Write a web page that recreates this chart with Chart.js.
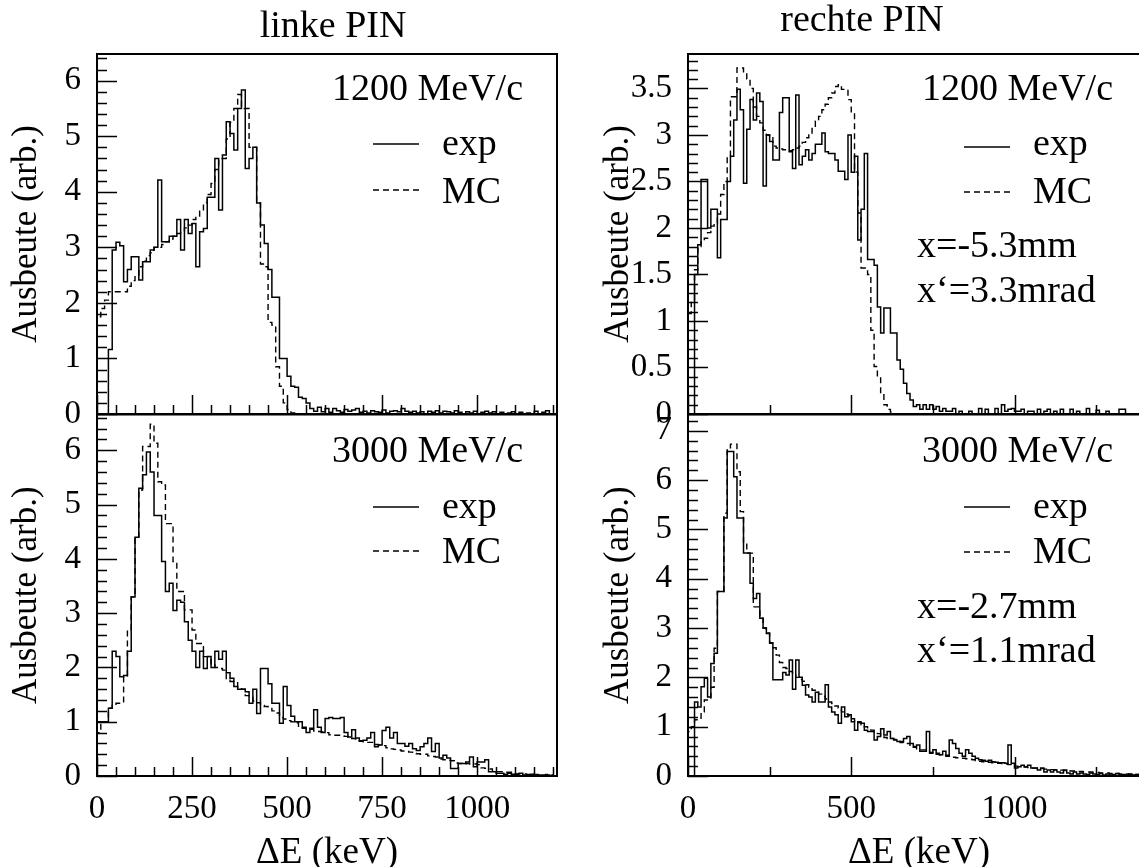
<!DOCTYPE html>
<html>
<head>
<meta charset="utf-8">
<title>PIN energy loss</title>
<script src="https://cdn.jsdelivr.net/npm/chart.js@4/dist/chart.umd.min.js"></script>
<style>
  html, body { margin: 0; padding: 0; background: #fff; overflow: hidden; width: 1139px; height: 867px; position: relative; }
  canvas { position: absolute; }
</style>
</head>
<body>
<canvas id="tl" width="570" height="440" style="left:0px;top:0px;width:570px;height:440px"></canvas>
<canvas id="bl" width="570" height="490" style="left:0px;top:390px;width:570px;height:490px"></canvas>
<canvas id="tr" width="600" height="440" style="left:580px;top:0px;width:600px;height:440px"></canvas>
<canvas id="br" width="600" height="490" style="left:580px;top:390px;width:600px;height:490px"></canvas>
<script>
// bin width in keV, first bin starts at 0
const binWidth = 10;

// tick labels
const leftXTicks = [0, 250, 500, 750, 1000];
const rightXTicks = [0, 500, 1000];
const leftYTicks = [0, 1, 2, 3, 4, 5, 6];
const trYTicks = [0, 0.5, 1, 1.5, 2, 2.5, 3, 3.5];
const brYTicks = [0, 1, 2, 3, 4, 5, 6, 7];

// linke PIN, 1200 MeV/c
const leftExp1200 = [0,0,0,0,1.16,2.95,3.09,3.03,2.38,2.6,2.83,2.83,2.41,2.74,2.74,2.95,3.0,4.21,3.1,3.1,
  3.2,3.2,3.5,2.95,3.5,3.25,3.43,2.65,3.28,3.34,3.9,3.9,4.6,3.67,4.66,5.26,5.05,4.75,5.5,5.83,
  4.42,4.6,4.8,3.8,3.4,3.07,2.6,2.1,2.1,1.0,1.0,0.68,0.5,0.48,0.3,0.28,0.2,0.1,0.05,0.12,
  0.04,0.1,0.03,0.1,0.06,0.03,0.08,0.05,0.07,0.1,0.03,0.05,0.02,0.06,0.04,0.03,0.07,0.02,0.05,0.06,
  0.04,0.1,0.05,0.03,0.05,0.02,0.04,0,0.05,0.03,0.06,0.02,0.05,0.04,0.02,0.06,0.03,0,0.04,0.02,
  0.05,0,0.03,0.05,0.02,0.04,0,0.03,0,0.02,0.04,0,0.03,0,0.02,0,0.05,0,0.03,0.06,0];
const leftMc1200 = [1.6,1.75,1.9,2.05,2.2,2.2,2.2,2.2,2.2,2.3,2.4,2.5,2.65,2.75,2.85,2.9,3.0,3.0,3.05,3.1,
  3.15,3.2,3.25,3.3,3.35,3.4,3.5,3.55,3.65,3.8,3.95,4.15,4.4,4.6,4.6,4.95,5.25,5.5,5.75,5.5,
  5.5,4.8,4.8,3.8,2.7,2.65,1.65,1.6,0.85,0.5,0.2,0.08,0.02,0,0,0,0,0,0,0,
  0,0,0,0,0,0,0,0,0,0,0,0,0,0,0,0,0,0,0,0,
  0,0,0,0,0,0,0,0,0,0,0,0,0,0,0,0,0,0,0,0,
  0,0,0,0,0,0,0,0,0,0,0,0,0,0,0,0,0,0,0,0,0];

// linke PIN, 3000 MeV/c
const leftExp3000 = [1.0,1.0,1.0,1.0,1.25,2.3,2.2,1.83,1.85,2.3,3.3,4.4,5.3,5.55,5.97,5.6,4.8,4.8,3.95,3.4,
  3.55,3.05,3.24,3.2,2.84,2.5,2.3,2.0,2.3,1.98,2.2,2.0,2.3,2.15,2.3,1.9,1.8,1.65,1.6,1.6,
  1.55,1.34,1.6,1.15,1.98,1.98,1.7,1.34,1.34,0.97,1.65,1.3,1.1,1.0,1.0,0.9,0.8,0.88,1.22,0.9,
  0.8,1.06,1.08,1.06,1.06,1.08,0.8,0.72,0.85,0.7,0.65,0.66,0.7,0.8,0.54,0.57,0.84,0.9,0.7,0.8,
  0.6,0.6,0.55,0.6,0.5,0.47,0.54,0.6,0.7,0.45,0.6,0.33,0.38,0.33,0.14,0.14,0.23,0.23,0.26,0.35,
  0.17,0.26,0.26,0.3,0.08,0.08,0.05,0.05,0.03,0.05,0.03,0.03,0.05,0.02,0.01,0.03,0.01,0.02,0.01,0.02,0.01];
const leftMc3000 = [0.8,0.8,1.0,1.0,1.25,1.3,1.34,1.34,1.83,2.7,3.3,4.4,5.27,6.07,6.07,6.48,6.13,5.42,5.36,4.65,
  4.65,3.95,3.4,3.4,3.06,3.06,2.69,2.44,2.44,2.2,2.2,2.05,2.0,1.98,1.95,1.78,1.74,1.72,1.62,1.6,
  1.48,1.45,1.38,1.35,1.3,1.28,1.26,1.2,1.16,1.08,1.05,1.02,1.0,0.98,0.9,0.88,0.87,0.86,0.83,0.82,
  0.81,0.8,0.76,0.75,0.75,0.74,0.73,0.7,0.69,0.68,0.64,0.63,0.62,0.62,0.58,0.57,0.56,0.52,0.5,0.49,
  0.48,0.46,0.45,0.44,0.42,0.41,0.4,0.4,0.37,0.36,0.35,0.31,0.3,0.29,0.28,0.24,0.23,0.22,0.23,0.22,
  0.22,0.21,0.15,0.14,0.13,0.09,0.08,0.08,0.07,0.07,0.05,0.04,0.04,0.04,0.03,0.04,0.03,0.03,0.02,0.03,0.02];

// rechte PIN, 1200 MeV/c
const rightExp1200 = [0,0,0,1.5,1.82,2.52,2.52,2.0,2.2,2.2,1.68,2.09,2.09,2.5,2.77,3.16,3.49,3.27,2.48,3.06,
  3.38,3.16,3.45,3.36,2.45,3.0,2.93,2.73,2.73,3.24,3.4,3.4,2.82,2.64,3.43,2.68,2.77,2.84,2.73,2.8,
  2.9,2.9,3.02,2.82,2.8,2.8,2.73,2.61,2.61,2.52,3.0,2.6,2.77,1.87,2.2,2.8,1.66,1.66,1.6,1.15,
  0.87,1.14,1.14,0.87,0.87,0.58,0.48,0.33,0.22,0.15,0.08,0.1,0.05,0.1,0.05,0.1,0.05,0.08,0.03,0.06,
  0.03,0.03,0.06,0,0.03,0,0,0.03,0,0,0.06,0,0.05,0,0,0.06,0,0.1,0.03,0.05,
  0.06,0.03,0.03,0.05,0,0.03,0.03,0,0.05,0,0.03,0.05,0,0.03,0,0.05,0,0,0.05,0,
  0.03,0,0,0.06,0,0,0.04,0,0,0.03,0,0,0,0.05,0.05,0,0,0,0];
const rightMc1200 = [1.05,1.08,1.2,1.55,1.8,1.85,1.89,1.95,2.02,2.05,2.15,2.36,2.5,2.77,3.41,3.41,3.72,3.72,3.67,3.6,
  3.5,3.3,3.2,3.13,3.05,3.0,2.97,2.88,2.86,2.85,2.84,2.84,2.83,2.84,2.86,2.88,2.92,2.97,3.0,3.07,
  3.15,3.2,3.27,3.33,3.4,3.45,3.52,3.54,3.49,3.49,3.38,3.24,2.6,2.16,1.57,1.57,1.5,0.9,0.51,0.4,
  0.22,0.1,0.05,0.02,0,0,0,0,0,0,0,0,0,0,0,0,0,0,0,0,
  0,0,0,0,0,0,0,0,0,0,0,0,0,0,0,0,0,0,0,0,
  0,0,0,0,0,0,0,0,0,0,0,0,0,0,0,0,0,0,0,0,
  0,0,0,0,0,0,0,0,0,0,0,0,0,0,0,0,0,0,0];

// rechte PIN, 3000 MeV/c
const rightExp3000 = [0,0,0,1.5,1.4,1.81,1.98,1.6,2.28,2.49,3.74,3.74,5.23,6.58,6.58,6.07,5.23,5.23,4.52,4.52,
  3.91,3.6,3.7,3.2,3.0,2.89,2.7,1.95,1.95,1.95,2.1,2.05,2.35,1.76,2.35,2.0,1.84,1.64,1.6,1.5,
  1.7,1.5,1.5,1.85,1.4,1.3,1.24,1.07,1.4,1.2,1.24,1.1,0.93,1.1,1.07,0.93,0.9,0.9,0.73,0.8,
  0.96,0.83,0.9,0.76,0.73,0.7,0.7,0.76,0.8,0.66,0.6,0.63,0.5,0.5,0.9,0.46,0.53,0.46,0.43,0.5,
  0.4,0.73,0.66,0.56,0.46,0.4,0.53,0.46,0.4,0.36,0.33,0.32,0.3,0.32,0.29,0.28,0.27,0.27,0.26,0.63,
  0.26,0.16,0.19,0.22,0.19,0.22,0.16,0.16,0.12,0.16,0.08,0.12,0.08,0.12,0.08,0.06,0.12,0.06,0.04,0.08,
  0.04,0.06,0.04,0.03,0.06,0.04,0.03,0.05,0.02,0.04,0.02,0.03,0.05,0.02,0.03,0.02,0.04,0.02,0.03];
const rightMc3000 = [0.9,0.9,1.0,1.14,1.14,1.3,1.54,1.54,1.8,2.59,3.74,3.74,5.33,6.61,6.73,6.73,6.17,5.36,4.72,4.52,
  4.52,3.43,3.43,3.2,3.0,2.9,2.69,2.6,2.45,2.3,2.2,2.18,2.12,2.05,2.0,1.96,1.92,1.85,1.8,1.74,
  1.7,1.66,1.62,1.56,1.5,1.47,1.42,1.38,1.3,1.26,1.22,1.16,1.12,1.08,1.04,1.0,0.96,0.93,0.9,0.86,
  0.8,0.78,0.76,0.76,0.74,0.7,0.68,0.66,0.66,0.62,0.58,0.55,0.53,0.53,0.52,0.48,0.45,0.44,0.43,0.42,
  0.42,0.4,0.38,0.37,0.36,0.36,0.35,0.34,0.33,0.31,0.3,0.29,0.29,0.28,0.27,0.26,0.26,0.25,0.24,0.23,
  0.21,0.2,0.19,0.19,0.18,0.17,0.16,0.16,0.15,0.15,0.14,0.14,0.13,0.13,0.12,0.12,0.11,0.11,0.1,0.1,
  0.09,0.09,0.08,0.08,0.08,0.07,0.07,0.06,0.06,0.06,0.05,0.05,0.05,0.04,0.04,0.04,0.03,0.03,0.03];

const serif = '"Liberation Serif", "Times New Roman", serif';
Chart.defaults.font.family = serif;
Chart.defaults.color = '#000';

// histogram bins -> stepped line points
function toSteps(values) {
  let pts = [{x: 0, y: 0}];
  values.forEach(function (v, i) {
    pts.push({x: i * binWidth, y: v});
  });
  pts.push({x: values.length * binWidth, y: 0});
  return pts;
}

function fixedTicks(list) {
  return function (scale) {
    scale.ticks = list.map(function (v) { return {value: v}; });
  };
}

// ROOT-like frame, inner tick marks, legend and labels
const rootFrame = {
  id: 'rootFrame',
  afterDatasetsDraw(chart, args, opts) {
    let ctx = chart.ctx;
    let area = chart.chartArea;
    let xs = chart.scales.x;
    let ys = chart.scales.y;
    ctx.save();
    ctx.strokeStyle = '#000';

    // tick marks
    ctx.lineWidth = 1.5;
    ctx.beginPath();
    let n = Math.floor(ys.max / opts.yMinor + 1e-6);
    for (let i = 0; i <= n; i++) {
      let v = i * opts.yMinor;
      let r = v / opts.yMajor;
      let len = Math.abs(r - Math.round(r)) < 1e-6 ? 20 : 10;
      let py = Math.round(ys.getPixelForValue(v)) + 0.5;
      ctx.moveTo(area.left, py);
      ctx.lineTo(area.left + len, py);
    }
    n = Math.floor(xs.max / opts.xMinor + 1e-6);
    for (let i = 0; i <= n; i++) {
      let v = i * opts.xMinor;
      let r = v / opts.xMajor;
      let len = Math.abs(r - Math.round(r)) < 1e-6 ? 19 : 9;
      let px = Math.round(xs.getPixelForValue(v)) + 0.5;
      ctx.moveTo(px, area.bottom);
      ctx.lineTo(px, area.bottom - len);
    }
    ctx.stroke();

    // frame
    ctx.lineWidth = 2;
    ctx.strokeRect(area.left, area.top, area.right - area.left, area.bottom - area.top);

    // texts in page coordinates
    let ox = opts.offsetX, oy = opts.offsetY;
    ctx.fillStyle = '#000';
    ctx.textBaseline = 'alphabetic';
    ctx.font = '38px ' + serif;
    ctx.textAlign = 'right';
    ctx.fillText(opts.momentum, opts.momX - ox, opts.momY - oy);
    ctx.textAlign = 'left';
    ctx.fillText('exp', opts.legX + 69 - ox, opts.expY - oy);
    ctx.fillText('MC', opts.legX + 69 - ox, opts.mcY - oy);
    (opts.notes || []).forEach(function (t) {
      ctx.fillText(t.text, t.x - ox, t.y - oy);
    });

    ctx.lineWidth = 1.5;
    ctx.beginPath();
    ctx.moveTo(opts.legX - ox, opts.expLineY - oy);
    ctx.lineTo(opts.legX + 46 - ox, opts.expLineY - oy);
    ctx.stroke();
    ctx.setLineDash([6, 4]);
    ctx.beginPath();
    ctx.moveTo(opts.legX - ox, opts.mcLineY - oy);
    ctx.lineTo(opts.legX + 46 - ox, opts.mcLineY - oy);
    ctx.stroke();
    ctx.setLineDash([]);

    if (opts.title) {
      ctx.font = '38px ' + serif;
      ctx.textAlign = 'center';
      ctx.fillText(opts.title.text, opts.title.x - ox, opts.title.y - oy);
    }
    ctx.restore();
  }
};

function buildPanel(p) {
  return {
    type: 'line',
    data: {
      datasets: [{
        label: 'exp',
        data: toSteps(p.exp),
        stepped: 'after',
        borderColor: '#000',
        borderWidth: 1.5,
        pointRadius: 0,
        fill: false
      }, {
        label: 'MC',
        data: toSteps(p.mc),
        stepped: 'after',
        borderColor: '#000',
        borderWidth: 1.4,
        borderDash: [6, 4],
        pointRadius: 0,
        fill: false
      }]
    },
    options: {
      responsive: false,
      animation: false,
      devicePixelRatio: 1,
      layout: { padding: { left: 0, right: p.padRight, top: p.padTop, bottom: 0 } },
      plugins: {
        legend: { display: false },
        tooltip: { enabled: false },
        rootFrame: p.frame
      },
      scales: {
        x: {
          type: 'linear',
          min: 0,
          max: p.xMax,
          grid: { display: false },
          border: { display: false },
          afterBuildTicks: fixedTicks(p.xTicks),
          ticks: {
            display: p.showX,
            autoSkip: false,
            maxRotation: 0,
            padding: 9,
            font: { size: 33, lineHeight: 1 },
            color: '#000',
            callback: function (v) { return String(v); }
          },
          title: {
            display: p.showX,
            text: 'ΔE (keV)',
            font: { size: 37, lineHeight: 1 },
            padding: { top: 0, bottom: 8 },
            color: '#000'
          },
          afterFit: function (s) { s.height = p.xAxisHeight; }
        },
        y: {
          min: 0,
          max: p.yMax,
          grid: { display: false },
          border: { display: false },
          afterBuildTicks: fixedTicks(p.yTicks),
          ticks: {
            autoSkip: false,
            padding: 8,
            font: { size: 33, lineHeight: 1 },
            color: '#000',
            callback: function (v) { return String(v); }
          },
          title: {
            display: true,
            text: 'Ausbeute (arb.)',
            font: { size: 35, lineHeight: 1 },
            padding: { top: p.yTitlePad, bottom: 0 },
            color: '#000'
          },
          afterFit: function (s) { s.width = p.yAxisWidth; }
        }
      }
    },
    plugins: [rootFrame]
  };
}

new Chart(document.getElementById('tl'), buildPanel({
  exp: leftExp1200, mc: leftMc1200, xTicks: leftXTicks, yTicks: leftYTicks,
  xMax: 1210, yMax: 6.48, showX: false,
  padTop: 54, padRight: 13, xAxisHeight: 26, yAxisWidth: 97, yTitlePad: 9,
  frame: {
    offsetX: 0, offsetY: 0, yMajor: 1, yMinor: 0.2, xMajor: 250, xMinor: 50,
    momentum: '1200 MeV/c', momX: 523, momY: 100,
    legX: 373, expLineY: 144, mcLineY: 190, expY: 155, mcY: 203,
    title: { text: 'linke PIN', x: 333, y: 37 }
  }
}));

new Chart(document.getElementById('bl'), buildPanel({
  exp: leftExp3000, mc: leftMc3000, xTicks: leftXTicks, yTicks: leftYTicks,
  xMax: 1210, yMax: 6.66, showX: true,
  padTop: 24, padRight: 13, xAxisHeight: 104, yAxisWidth: 97, yTitlePad: 9,
  frame: {
    offsetX: 0, offsetY: 390, yMajor: 1, yMinor: 0.2, xMajor: 250, xMinor: 50,
    momentum: '3000 MeV/c', momX: 523, momY: 462,
    legX: 373, expLineY: 507, mcLineY: 551, expY: 518, mcY: 563
  }
}));

new Chart(document.getElementById('tr'), buildPanel({
  exp: rightExp1200, mc: rightMc1200, xTicks: rightXTicks, yTicks: trYTicks,
  xMax: 1415, yMax: 3.87, showX: false,
  padTop: 54, padRight: 30, xAxisHeight: 26, yAxisWidth: 108, yTitlePad: 21,
  frame: {
    offsetX: 580, offsetY: 0, yMajor: 0.5, yMinor: 0.1, xMajor: 500, xMinor: 250,
    momentum: '1200 MeV/c', momX: 1113, momY: 100,
    legX: 964, expLineY: 147, mcLineY: 192, expY: 155, mcY: 203,
    notes: [{ text: 'x=-5.3mm', x: 917, y: 257 }, { text: 'x‘=3.3mrad', x: 917, y: 302 }],
    title: { text: 'rechte PIN', x: 862, y: 31 }
  }
}));

new Chart(document.getElementById('br'), buildPanel({
  exp: rightExp3000, mc: rightMc3000, xTicks: rightXTicks, yTicks: brYTicks,
  xMax: 1415, yMax: 7.33, showX: true,
  padTop: 24, padRight: 30, xAxisHeight: 104, yAxisWidth: 108, yTitlePad: 21,
  frame: {
    offsetX: 580, offsetY: 390, yMajor: 1, yMinor: 0.2, xMajor: 500, xMinor: 250,
    momentum: '3000 MeV/c', momX: 1113, momY: 462,
    legX: 964, expLineY: 507, mcLineY: 552, expY: 518, mcY: 563,
    notes: [{ text: 'x=-2.7mm', x: 917, y: 618 }, { text: 'x‘=1.1mrad', x: 917, y: 662 }]
  }
}));
</script>
</body>
</html>
